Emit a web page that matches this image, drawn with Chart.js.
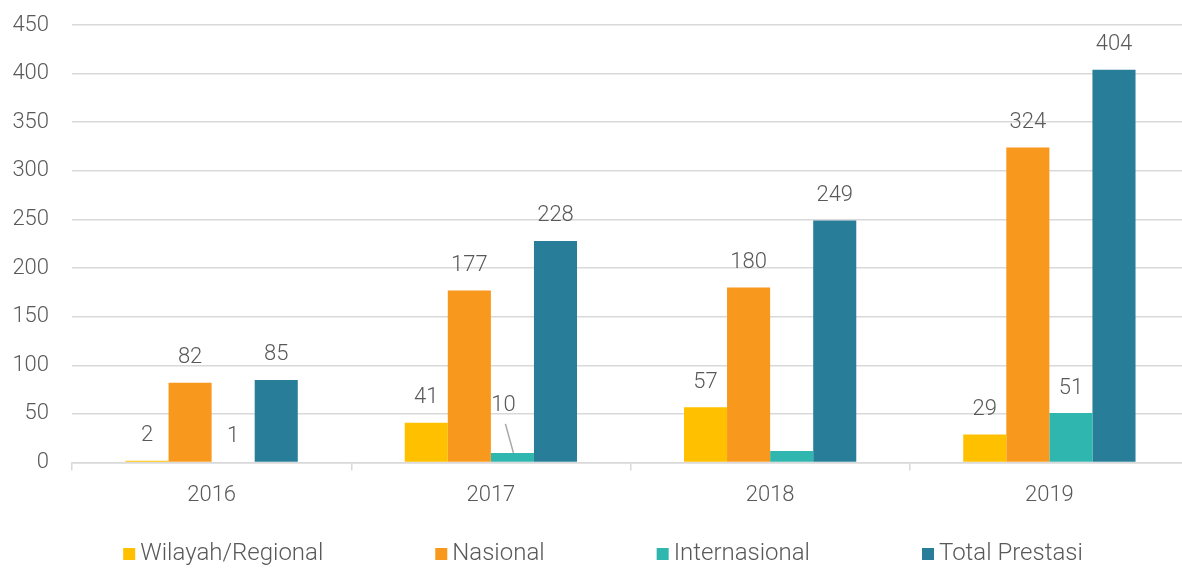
<!DOCTYPE html>
<html>
<head>
<meta charset="utf-8">
<script src="https://cdn.jsdelivr.net/npm/chart.js@4.4.0/dist/chart.umd.min.js"></script>
<style>
  html, body { margin: 0; padding: 0; background: #fff; overflow: hidden; }
  #wrap { width: 1189px; height: 568px; }
</style>
</head>
<body>
<div id="wrap"><canvas id="myChart"></canvas></div>
<script>
const years = ['2016', '2017', '2018', '2019'];
const wilayah = [2, 41, 57, 29];
const nasional = [82, 177, 180, 324];
const internasional = [1, 10, 12, 51];
const totalPrestasi = [85, 228, 249, 404];
const yTicks = [0, 50, 100, 150, 200, 250, 300, 350, 400, 450];

const textColor = '#595959';
const gridColor = '#d9d9d9';
const fontFamily = 'Roboto, "Noto Sans", sans-serif';
const labelFont = '300 22px ' + fontFamily;
const legendFont = '300 24px ' + fontFamily;

// label tweaks: [dataset, index]
const hiddenLabels = [[2, 2]];
const movedLabels = [{ ds: 2, i: 1, dx: -9, dy: -22, leader: true }];

const barLabels = {
    id: 'barLabels',
    afterDatasetsDraw(chart) {
        const ctx = chart.ctx;
        ctx.save();
        ctx.font = labelFont;
        ctx.fillStyle = textColor;
        ctx.textAlign = 'center';
        ctx.textBaseline = 'middle';
        chart.data.datasets.forEach(function(ds, d) {
            const meta = chart.getDatasetMeta(d);
            meta.data.forEach(function(bar, i) {
                if (hiddenLabels.some(h => h[0] === d && h[1] === i)) return;
                let x = bar.x;
                let y = bar.y - 25;
                const mv = movedLabels.find(m => m.ds === d && m.i === i);
                if (mv) {
                    x += mv.dx;
                    y += mv.dy;
                    if (mv.leader) {
                        ctx.strokeStyle = '#a6a6a6';
                        ctx.lineWidth = 1.5;
                        ctx.beginPath();
                        ctx.moveTo(x + 2, y + 18);
                        ctx.lineTo(bar.x + 1, bar.y);
                        ctx.stroke();
                    }
                }
                ctx.fillText(String(ds.data[i]), x, y);
            });
        });
        ctx.restore();
    }
};

// legend drawn by hand so item spacing and height can be set apart
const bottomLegend = {
    id: 'bottomLegend',
    afterDraw(chart) {
        const ctx = chart.ctx;
        const box = 12, textGap = 5, itemGap = 112, cy = 554;
        ctx.save();
        ctx.font = legendFont;
        const items = chart.data.datasets.map(ds => ({
            text: ds.label,
            color: ds.backgroundColor,
            w: box + textGap + ctx.measureText(ds.label).width
        }));
        const total = items.reduce((s, it) => s + it.w, 0) + itemGap * (items.length - 1);
        let x = 603 - total / 2;
        ctx.textBaseline = 'middle';
        ctx.textAlign = 'left';
        items.forEach(function(it) {
            ctx.fillStyle = it.color;
            ctx.fillRect(x, cy - box / 2, box, box);
            ctx.fillStyle = textColor;
            ctx.fillText(it.text, x + box + textGap, cy);
            x += it.w + itemGap;
        });
        ctx.restore();
    }
};

const ctx = document.getElementById('myChart').getContext('2d');
new Chart(ctx, {
    type: 'bar',
    data: {
        labels: years,
        datasets: [
            { label: 'Wilayah/Regional', data: wilayah, backgroundColor: '#FFC000' },
            { label: 'Nasional', data: nasional, backgroundColor: '#F8981D' },
            { label: 'Internasional', data: internasional, backgroundColor: '#2FB6AE' },
            { label: 'Total Prestasi', data: totalPrestasi, backgroundColor: '#287D99' }
        ]
    },
    options: {
        responsive: true,
        maintainAspectRatio: false,
        animation: false,
        datasets: {
            bar: { barPercentage: 1, categoryPercentage: 0.617 }
        },
        layout: { padding: { top: 25, left: 0, right: 0, bottom: 47 } },
        plugins: {
            tooltip: { enabled: false },
            legend: { display: false }
        },
        scales: {
            x: {
                grid: {
                    offset: true,
                    drawOnChartArea: false,
                    color: gridColor,
                    lineWidth: 1.5,
                    tickLength: 8
                },
                border: { color: gridColor, width: 1.5 },
                ticks: {
                    color: textColor,
                    padding: 12,
                    font: { family: fontFamily, size: 22, weight: 300 }
                }
            },
            y: {
                min: 0,
                max: 450,
                afterBuildTicks(scale) {
                    scale.ticks = yTicks.map(v => ({ value: v }));
                },
                afterFit(scale) {
                    scale.width = 72;
                    scale.paddingTop = 0;
                    scale.paddingBottom = 0;
                },
                grid: { color: gridColor, lineWidth: 1.5, drawTicks: false },
                border: { display: false },
                ticks: {
                    color: textColor,
                    padding: 23,
                    font: { family: fontFamily, size: 22, weight: 300 }
                }
            }
        }
    },
    plugins: [barLabels, bottomLegend]
});
</script>
</body>
</html>
